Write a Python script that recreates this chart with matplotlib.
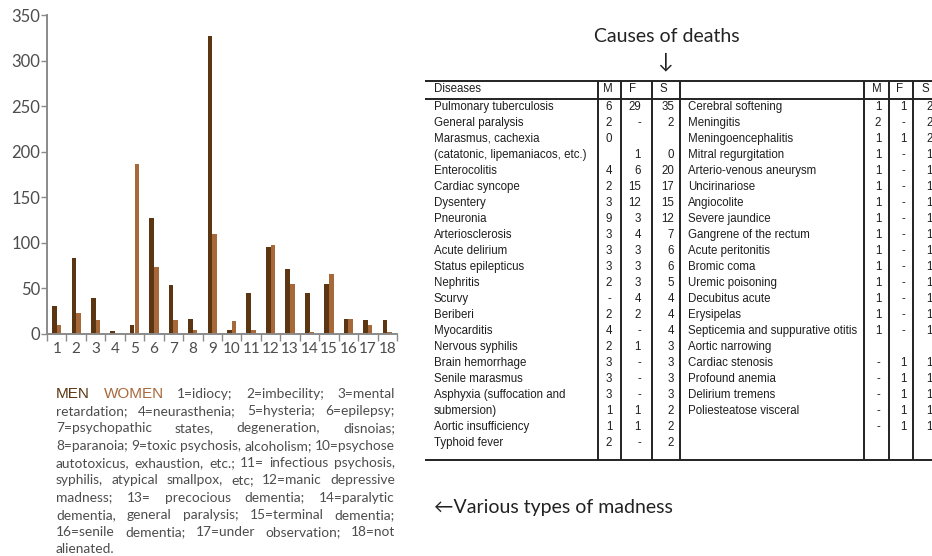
import matplotlib
matplotlib.use("Agg")
import matplotlib.pyplot as plt
import numpy as np

# ── Data ──────────────────────────────────────────────────────────────────
madness_types = list(range(1, 19))
men   = [31, 83, 40, 3, 10, 127, 54, 17, 327, 4, 45, 96, 71, 45, 55, 17, 15, 15]
women = [10, 23, 15, 0, 187, 74, 15, 4, 110, 14, 4, 98, 55, 2, 66, 17, 10, 2]
y_ticks = [0, 50, 100, 150, 200, 250, 300, 350]

left_diseases = [
    "Pulmonary tuberculosis", "General paralysis", "Marasmus, cachexia",
    "(catatonic, lipemaniacos, etc.)", "Enterocolitis", "Cardiac syncope",
    "Dysentery", "Pneuronia", "Arteriosclerosis", "Acute delirium",
    "Status epilepticus", "Nephritis", "Scurvy", "Beriberi", "Myocarditis",
    "Nervous syphilis", "Brain hemorrhage", "Senile marasmus",
    "Asphyxia (suffocation and", "submersion)", "Aortic insufficiency",
    "Typhoid fever",
]
left_m = ["6", "2", "0", "", "4", "2", "3", "9", "3", "3", "3", "2", "-", "2",
          "4", "2", "3", "3", "3", "1", "1", "2"]
left_f = ["29", "-", "", "1", "6", "15", "12", "3", "4", "3", "3", "3", "4", "2",
          "-", "1", "-", "-", "-", "1", "1", "-"]
left_s = ["35", "2", "", "0", "20", "17", "15", "12", "7", "6", "6", "5", "4", "4",
          "4", "3", "3", "3", "3", "2", "2", "2"]

right_diseases = [
    "Cerebral softening", "Meningitis", "Meningoencephalitis",
    "Mitral regurgitation", "Arterio-venous aneurysm", "Uncirinariose",
    "Angiocolite", "Severe jaundice", "Gangrene of the rectum",
    "Acute peritonitis", "Bromic coma", "Uremic poisoning", "Decubitus acute",
    "Erysipelas", "Septicemia and suppurative otitis", "Aortic narrowing",
    "Cardiac stenosis", "Profound anemia", "Delirium tremens",
    "Poliesteatose visceral", "", "",
]
right_m = ["1", "2", "1", "1", "1", "1", "1", "1", "1", "1", "1", "1", "1", "1",
           "1", "", "-", "-", "-", "-", "-", ""]
right_f = ["1", "-", "1", "-", "-", "-", "-", "-", "-", "-", "-", "-", "-", "-",
           "-", "", "1", "1", "1", "1", "1", ""]
right_s = ["2", "2", "2", "1", "1", "1", "1", "1", "1", "1", "1", "1", "1", "1",
           "1", "", "1", "1", "1", "1", "1", ""]

legend_lines = [
    "1=idiocy; 2=imbecility; 3=mental",
    "retardation; 4=neurasthenia; 5=hysteria; 6=epilepsy;",
    "7=psychopathic states, degeneration, disnoias;",
    "8=paranoia; 9=toxic psychosis, alcoholism; 10=psychose",
    "autotoxicus, exhaustion, etc.; 11= infectious psychosis,",
    "syphilis, atypical smallpox, etc; 12=manic depressive",
    "madness; 13= precocious dementia; 14=paralytic",
    "dementia, general paralysis; 15=terminal dementia;",
    "16=senile dementia; 17=under observation; 18=not",
    "alienated.",
]

MEN_COLOR   = "#5c3512"
WOMEN_COLOR = "#a8693a"
AXIS_GRAY   = "#8a8a8a"
TEXT_GRAY   = "#4d4d4d"
TABLE_INK   = "#1e1e1e"

W, H = 932, 556
fig = plt.figure(figsize=(W / 100, H / 100), dpi=100)

# ── Bar chart ─────────────────────────────────────────────────────────────
ax = fig.add_axes([47 / W, 1 - 334 / H, 350 / W, 319 / H])
x = np.array(madness_types)
ax.bar(x - 0.24, men, width=0.24, align="edge", color=MEN_COLOR)
ax.bar(x, women, width=0.24, align="edge", color=WOMEN_COLOR)
ax.set_xlim(0.5, 18.5)
ax.set_ylim(0, 350)
ax.set_yticks(y_ticks)
ax.set_xticks(x)
ax.set_xticks(np.arange(0.5, 19, 1), minor=True)
ax.tick_params(axis="x", which="major", length=0, pad=6, labelsize=11,
               labelcolor=TEXT_GRAY)
ax.tick_params(axis="x", which="minor", length=5, width=1, color=AXIS_GRAY,
               direction="out")
ax.tick_params(axis="y", length=4, width=1, color=AXIS_GRAY, pad=1,
               labelsize=12, labelcolor=TEXT_GRAY)
for lab in ax.get_xticklabels() + ax.get_yticklabels():
    lab.set_family("Lato")
for side in ("top", "right"):
    ax.spines[side].set_visible(False)
for side in ("left", "bottom"):
    ax.spines[side].set_color(AXIS_GRAY)
    ax.spines[side].set_linewidth(1.4)

# ── Overlay in pixel coordinates for text and table ──────────────────────
ov = fig.add_axes([0, 0, 1, 1], zorder=-1)
ov.set_xlim(0, W)
ov.set_ylim(H, 0)
ov.axis("off")

renderer = fig.canvas.get_renderer()


def justify(items, y, x0, x1, last=False):
    """items: list of (word, kwargs); spread words across x0..x1."""
    texts = [ov.text(x0, y, w, va="baseline", ha="left", **kw) for w, kw in items]
    widths = [t.get_window_extent(renderer).width for t in texts]
    if last or len(texts) == 1:
        gap = 4.0
    else:
        gap = (x1 - x0 - sum(widths)) / (len(texts) - 1)
    pos = x0
    for t, wd in zip(texts, widths):
        t.set_x(pos)
        pos += wd + gap


body = dict(family="Lato", fontsize=9.9, color=TEXT_GRAY)
line_y0, line_step = 398, 17.25
for i, line in enumerate(legend_lines):
    items = [(w, body) for w in line.split()]
    if i == 0:
        items = [("MEN", dict(family="Liberation Sans", fontsize=11, color=MEN_COLOR)),
                 ("WOMEN", dict(family="Liberation Sans", fontsize=11, color=WOMEN_COLOR))] + items
    justify(items, line_y0 + i * line_step, 56, 395, last=(i == len(legend_lines) - 1))

# titles
ov.text(667, 36, "Causes of deaths", ha="center", va="center",
        family="Lato", fontsize=14, color="#222222")
ov.text(665, 61, "↓", ha="center", va="center",
        family=["Lato", "DejaVu Sans"], fontsize=15, color="#222222")
ov.text(434, 508, "←Various types of madness", ha="left", va="center",
        family=["Lato", "DejaVu Sans"], fontsize=14, color="#222222")

# table lines
lw = 1.4
top_y, head_y, bottom_y = 80.5, 98.5, 460
for yy in (top_y, head_y, bottom_y):
    ov.plot([425, W], [yy, yy], color="#222222", lw=lw, solid_capstyle="butt")
for xx in (598, 621, 652, 680, 864, 889, 913):
    ov.plot([xx, xx], [top_y, bottom_y], color="#222222", lw=lw,
            solid_capstyle="butt")

tbl = dict(family="Liberation Sans", fontsize=8.3, color=TABLE_INK, va="center")
header_y = 89.5
ov.text(434, header_y, "Diseases", ha="left", **tbl)
ov.text(608, header_y, "M", ha="center", **tbl)
ov.text(629, header_y, "F", ha="left", **tbl)
ov.text(659, header_y, "S", ha="left", **tbl)
ov.text(877, header_y, "M", ha="center", **tbl)
ov.text(900, header_y, "F", ha="center", **tbl)
ov.text(922, header_y, "S", ha="left", **tbl)

row_y0, row_step = 106.7, 16.0
for i in range(len(left_diseases)):
    yy = row_y0 + i * row_step
    ov.text(434, yy, left_diseases[i], ha="left", **tbl)
    ov.text(609, yy, left_m[i], ha="center", **tbl)
    ov.text(641, yy, left_f[i], ha="right", **tbl)
    ov.text(674, yy, left_s[i], ha="right", **tbl)
for i in range(len(right_diseases)):
    yy = row_y0 + i * row_step
    ov.text(688, yy, right_diseases[i], ha="left", **tbl)
    ov.text(878, yy, right_m[i], ha="center", **tbl)
    ov.text(903, yy, right_f[i], ha="center", **tbl)
    ov.text(926, yy, right_s[i], ha="left", **tbl)

fig.savefig("out.png", dpi=100)
